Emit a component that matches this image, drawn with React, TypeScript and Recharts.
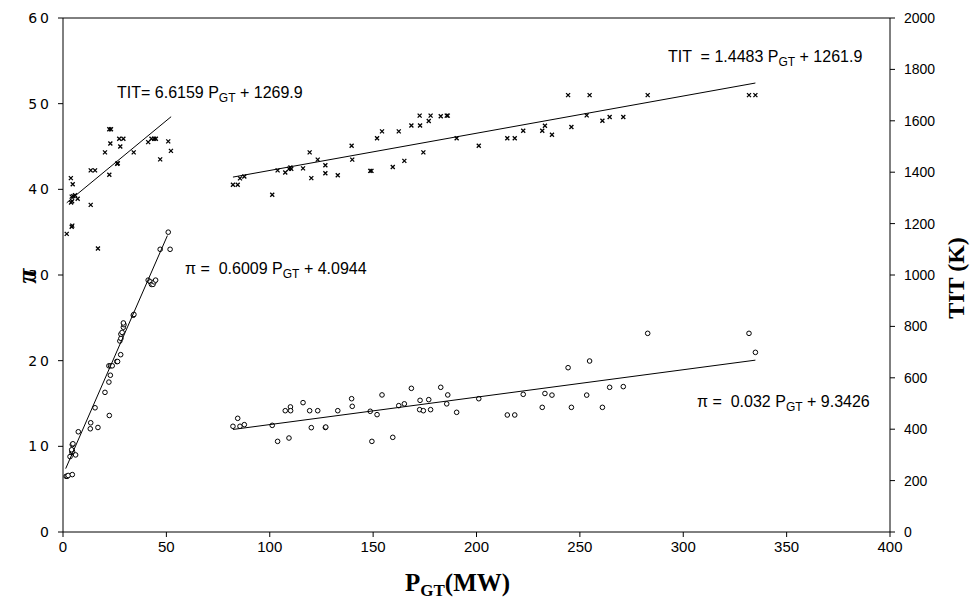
import React from 'react';
import { ScatterChart, Scatter, XAxis, YAxis, ReferenceLine } from 'recharts';

const xTicks = [0, 50, 100, 150, 200, 250, 300, 350, 400];
const piTicks = [0, 10, 20, 30, 40, 50, 60];
const titTicks = [0, 200, 400, 600, 800, 1000, 1200, 1400, 1600, 1800, 2000];

// pressure ratio, low power (MW, pi)
const piLow: [number, number][] = [
  [1.5, 6.5], [2, 6.5], [2.5, 6.6], [4.5, 6.7], [3.4, 8.8], [4.3, 9.3], [4.6, 9.4], [6.1, 9.0],
  [4.2, 9.6], [4.5, 10.2], [4.8, 10.3], [7.4, 11.7], [13.4, 12.75], [13.2, 12.05], [16.9, 12.2],
  [15.5, 14.5], [22.4, 13.6], [20.3, 16.3], [22.2, 17.5], [22.9, 18.3], [22.2, 19.4], [23, 19.4],
  [23.8, 19.4], [26, 19.9], [26.4, 19.9], [27.9, 20.7], [27.5, 22.3], [28, 22.6], [28, 23.1],
  [28.6, 23.3], [29.2, 23.9], [29.5, 24.2], [29.2, 24.4], [34, 25.3], [34.3, 25.4], [41.2, 29.4],
  [42.2, 29.2], [42.8, 28.9], [43.5, 28.9], [44.1, 29.2], [44.8, 29.4], [47, 33.0], [51.8, 33.0],
  [50.9, 35.0],
];

// pressure ratio, high power (MW, pi)
const piHigh: [number, number][] = [
  [82.2, 12.34], [84.5, 13.27], [85.6, 12.34], [87.7, 12.53], [101.2, 12.45], [103.8, 10.58],
  [107.5, 14.16], [110, 14.6], [110.1, 14.16], [109.3, 10.97], [116.1, 15.1], [119.3, 14.16],
  [120.1, 12.18], [123.2, 14.16], [126.9, 12.2], [127.1, 12.25], [132.9, 14.16], [139.6, 15.56],
  [139.9, 14.67], [148.6, 14.09], [149.4, 10.58], [151.9, 13.7], [154.3, 16.0], [159.5, 11.05],
  [162.4, 14.75], [165.1, 14.96], [168.5, 16.77], [172.7, 15.37], [172.5, 14.28], [174.3, 14.16],
  [176.9, 15.45], [177.8, 14.28], [182.7, 16.89], [186.1, 16.0], [185.6, 14.96], [190.4, 13.97],
  [201.1, 15.56], [214.9, 13.66], [218.5, 13.66], [222.6, 16.07], [231.8, 14.55], [233.1, 16.17],
  [236.5, 15.98], [244.3, 19.18], [245.9, 14.55], [253.3, 15.98], [254.7, 19.96], [260.9, 14.55],
  [264.4, 16.89], [271, 16.97], [282.8, 23.19], [331.8, 23.19], [334.9, 20.97],
];

// turbine inlet temperature, low power (MW, K)
const titLow: [number, number][] = [
  [1.8, 1160], [4.2, 1188], [4.5, 1192], [3.8, 1377], [4.7, 1353], [4.2, 1305], [5.0, 1307],
  [5.8, 1310], [3.9, 1282], [7.1, 1297], [4.4, 1287], [13.4, 1273], [13.4, 1407], [15.5, 1407],
  [16.9, 1103], [20.3, 1477], [22.4, 1390], [22.9, 1512], [22.4, 1567], [23.2, 1567], [27.7, 1500],
  [27.2, 1530], [29.2, 1530], [26.2, 1433], [26.5, 1435], [34.2, 1477], [41.2, 1517], [42.8, 1530],
  [44.1, 1530], [44.9, 1530], [47, 1450], [50.9, 1520], [52.2, 1483],
];

// turbine inlet temperature, high power (MW, K)
const titHigh: [number, number][] = [
  [82.2, 1351], [84.5, 1351], [85.6, 1376], [87.7, 1383], [101.2, 1312], [103.8, 1407], [107.5, 1399],
  [109.3, 1413], [110, 1418], [110.4, 1413], [116.1, 1415], [119.3, 1477], [120.1, 1377], [123.2, 1449],
  [126.9, 1427], [126.9, 1396], [132.9, 1388], [139.6, 1503], [139.9, 1449], [148.6, 1405], [149.2, 1405],
  [151.9, 1532], [154.3, 1559], [159.5, 1420], [162.4, 1559], [165.1, 1444], [168.5, 1582], [172.7, 1582],
  [172.5, 1620], [174.3, 1477], [176.9, 1599], [177.8, 1620], [182.7, 1618], [185.6, 1620], [186.1, 1620],
  [190.4, 1532], [201.1, 1503], [214.9, 1532], [218.5, 1532], [222.6, 1561], [231.8, 1561], [233.1, 1581],
  [236.5, 1546], [244.3, 1700], [245.9, 1576], [253.3, 1621], [254.7, 1700], [260.9, 1600], [264.4, 1615],
  [271, 1615], [282.8, 1700], [331.8, 1700], [334.9, 1700],
];

// trend-line end points as drawn in the figure (MW, value)
const piLowTrend: [number, number][] = [[1.3, 7.4], [50.5, 34.6]];
const piHighTrend: [number, number][] = [[82.2, 11.97], [334.9, 20.06]];
const titLowTrend: [number, number][] = [[1.8, 1281], [52.3, 1616]];
const titHighTrend: [number, number][] = [[82.2, 1381], [334.9, 1747]];

const toPts = (arr: [number, number][]) => arr.map(([x, y]) => ({ x, y }));

const CircleShape = (props: any) => (
  <circle cx={props.cx} cy={props.cy} r={2.3} fill="#fff" stroke="#000" strokeWidth={1} />
);
const CrossShape = (props: any) => {
  const { cx, cy } = props;
  const s = 2;
  return (
    <path
      d={`M${cx - s},${cy - s}L${cx + s},${cy + s}M${cx - s},${cy + s}L${cx + s},${cy - s}`}
      stroke="#000"
      strokeWidth={1.3}
      fill="none"
    />
  );
};
const NoShape = () => <g />;

const sans = 'Liberation Sans, Arial, sans-serif';
const serif = 'Liberation Serif, Times New Roman, serif';

const Eq = ({ x, y, pre, post }: { x: number; y: number; pre: string; post: string }) => (
  <text x={x} y={y} fontFamily={sans} fontSize={16} fill="#000" style={{ whiteSpace: 'pre' }}>
    <tspan>{pre}</tspan>
    <tspan fontSize={12} dy={4}>GT</tspan>
    <tspan dy={-4}>{post}</tspan>
  </text>
);

export default function App() {
  const W = 977;
  const H = 606;
  const lineStyle = { stroke: '#000', strokeWidth: 1 };
  return (
    <div style={{ position: 'absolute', left: 0, top: 0, width: W, height: H, background: '#fff' }}>
      <ScatterChart width={W} height={H} margin={{ top: 18, right: 0, bottom: 0, left: 0 }}>
        <XAxis
          type="number"
          dataKey="x"
          domain={[0, 400]}
          ticks={xTicks}
          height={74}
          axisLine={{ stroke: '#000' }}
          tickLine={{ stroke: '#000' }}
          tickSize={5}
          tickMargin={4}
          tick={{ fill: '#000', fontSize: 15, fontFamily: sans }}
          allowDataOverflow
        />
        <YAxis
          yAxisId="l"
          type="number"
          dataKey="y"
          domain={[0, 60]}
          ticks={piTicks}
          width={63}
          axisLine={{ stroke: '#000' }}
          tickLine={{ stroke: '#000' }}
          tickSize={5}
          tickMargin={6}
          tick={{ fill: '#000', fontSize: 14, fontFamily: 'DejaVu Sans, sans-serif', letterSpacing: 3 }}
        />
        <YAxis
          yAxisId="r"
          orientation="right"
          type="number"
          dataKey="y"
          domain={[0, 2000]}
          ticks={titTicks}
          width={87}
          axisLine={{ stroke: '#000' }}
          tickLine={{ stroke: '#000' }}
          tickSize={5}
          tickMargin={9}
          tick={{ fill: '#000', fontSize: 14, fontFamily: sans }}
        />
        <ReferenceLine yAxisId="l" y={60} stroke="#000" />
        <Scatter yAxisId="r" data={toPts(titLow)} shape={CrossShape} isAnimationActive={false} />
        <Scatter yAxisId="r" data={toPts(titHigh)} shape={CrossShape} isAnimationActive={false} />
        <Scatter yAxisId="l" data={toPts(piLow)} shape={CircleShape} isAnimationActive={false} />
        <Scatter yAxisId="l" data={toPts(piHigh)} shape={CircleShape} isAnimationActive={false} />
        <Scatter yAxisId="l" data={toPts(piLowTrend)} line={lineStyle} shape={NoShape} isAnimationActive={false} />
        <Scatter yAxisId="l" data={toPts(piHighTrend)} line={lineStyle} shape={NoShape} isAnimationActive={false} />
        <Scatter yAxisId="r" data={toPts(titLowTrend)} line={lineStyle} shape={NoShape} isAnimationActive={false} />
        <Scatter yAxisId="r" data={toPts(titHighTrend)} line={lineStyle} shape={NoShape} isAnimationActive={false} />
      </ScatterChart>
      <svg width={W} height={H} style={{ position: 'absolute', left: 0, top: 0, pointerEvents: 'none' }}>
        <Eq x={117} y={98} pre="TIT= 6.6159 P" post=" + 1269.9" />
        <Eq x={668} y={62} pre="TIT  = 1.4483 P" post=" + 1261.9" />
        <Eq x={185} y={274} pre="π =  0.6009 P" post=" + 4.0944" />
        <Eq x={697} y={407} pre="π =  0.032 P" post=" + 9.3426" />
        <text x={405} y={591} fontFamily={serif} fontWeight="bold" fontSize={25} fill="#000">
          <tspan>P</tspan>
          <tspan fontSize={17} dy={5}>GT</tspan>
          <tspan dy={-5}>(MW)</tspan>
        </text>
        <text
          x={0}
          y={0}
          transform="translate(36,276) rotate(-90)"
          textAnchor="middle"
          fontFamily={serif}
          fontWeight="bold"
          fontStyle="italic"
          fontSize={28}
          fill="#000"
        >
          π
        </text>
        <text
          x={0}
          y={0}
          transform="translate(964,278) rotate(-90)"
          textAnchor="middle"
          fontFamily={serif}
          fontWeight="bold"
          fontSize={24}
          fill="#000"
        >
          TIT (K)
        </text>
      </svg>
    </div>
  );
}
